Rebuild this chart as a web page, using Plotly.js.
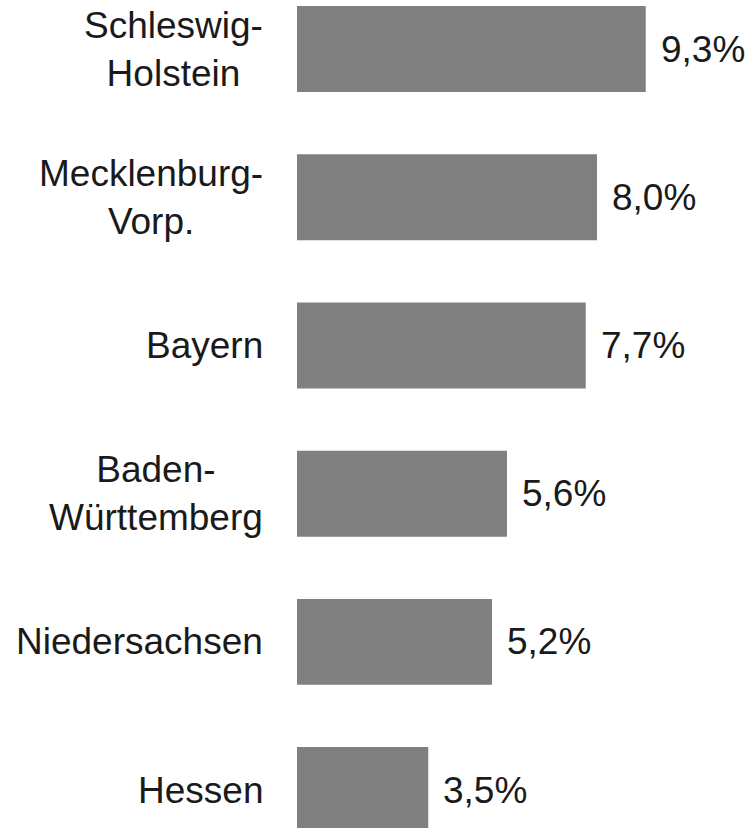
<!DOCTYPE html>
<html>
<head>
<meta charset="utf-8">
<script src="https://cdn.plot.ly/plotly-3.0.1.min.js"></script>
<style>
  html, body { margin: 0; padding: 0; background: #ffffff; }
  #chart { width: 751px; height: 828px; }
</style>
</head>
<body>
<div id="chart"></div>
<script>
// Bundesländer, top to bottom
const states = ["Schleswig-Holstein", "Mecklenburg-Vorp.", "Bayern", "Baden-Württemberg", "Niedersachsen", "Hessen"];
const stateLabels = ["Schleswig-<br>Holstein", "Mecklenburg-<br>Vorp.", "Bayern", "Baden-<br>Württemberg", "Niedersachsen", "Hessen"];
const shares = [9.3, 8.0, 7.7, 5.6, 5.2, 3.5];

// German number format: 9,3%
const shareText = shares.map(v => v.toFixed(1).replace(".", ",") + "%");

const textFont = { family: "Liberation Sans, Arial, sans-serif", size: 37, color: "#1a1a1a" };

const data = [{
    type: "bar",
    orientation: "h",
    x: shares,
    y: states,
    width: 0.58,
    marker: { color: "#808080" },
    hoverinfo: "none"
}];

let annotations = [];

// category labels left of the bars, lines centred on each other
states.forEach((s, i) => {
    annotations.push({
        x: 0, y: s, xref: "x", yref: "y",
        text: stateLabels[i],
        showarrow: false,
        xanchor: "right", yanchor: "middle",
        align: "center",
        xshift: -32,
        font: textFont
    });
});

// value labels right of the bars
states.forEach((s, i) => {
    annotations.push({
        x: shares[i], y: s, xref: "x", yref: "y",
        text: shareText[i],
        showarrow: false,
        xanchor: "left", yanchor: "middle",
        xshift: 13,
        font: textFont
    });
});

const layout = {
    width: 751,
    height: 828,
    margin: { l: 297, r: 0, t: 0, b: 0, pad: 0 },
    paper_bgcolor: "#ffffff",
    plot_bgcolor: "#ffffff",
    showlegend: false,
    xaxis: { range: [0, 12.107], visible: false, fixedrange: true },
    yaxis: {
        type: "category",
        range: [5.256, -0.331],
        visible: false,
        fixedrange: true
    },
    annotations: annotations
};

Plotly.newPlot("chart", data, layout, { displayModeBar: false, staticPlot: true });
</script>
</body>
</html>
